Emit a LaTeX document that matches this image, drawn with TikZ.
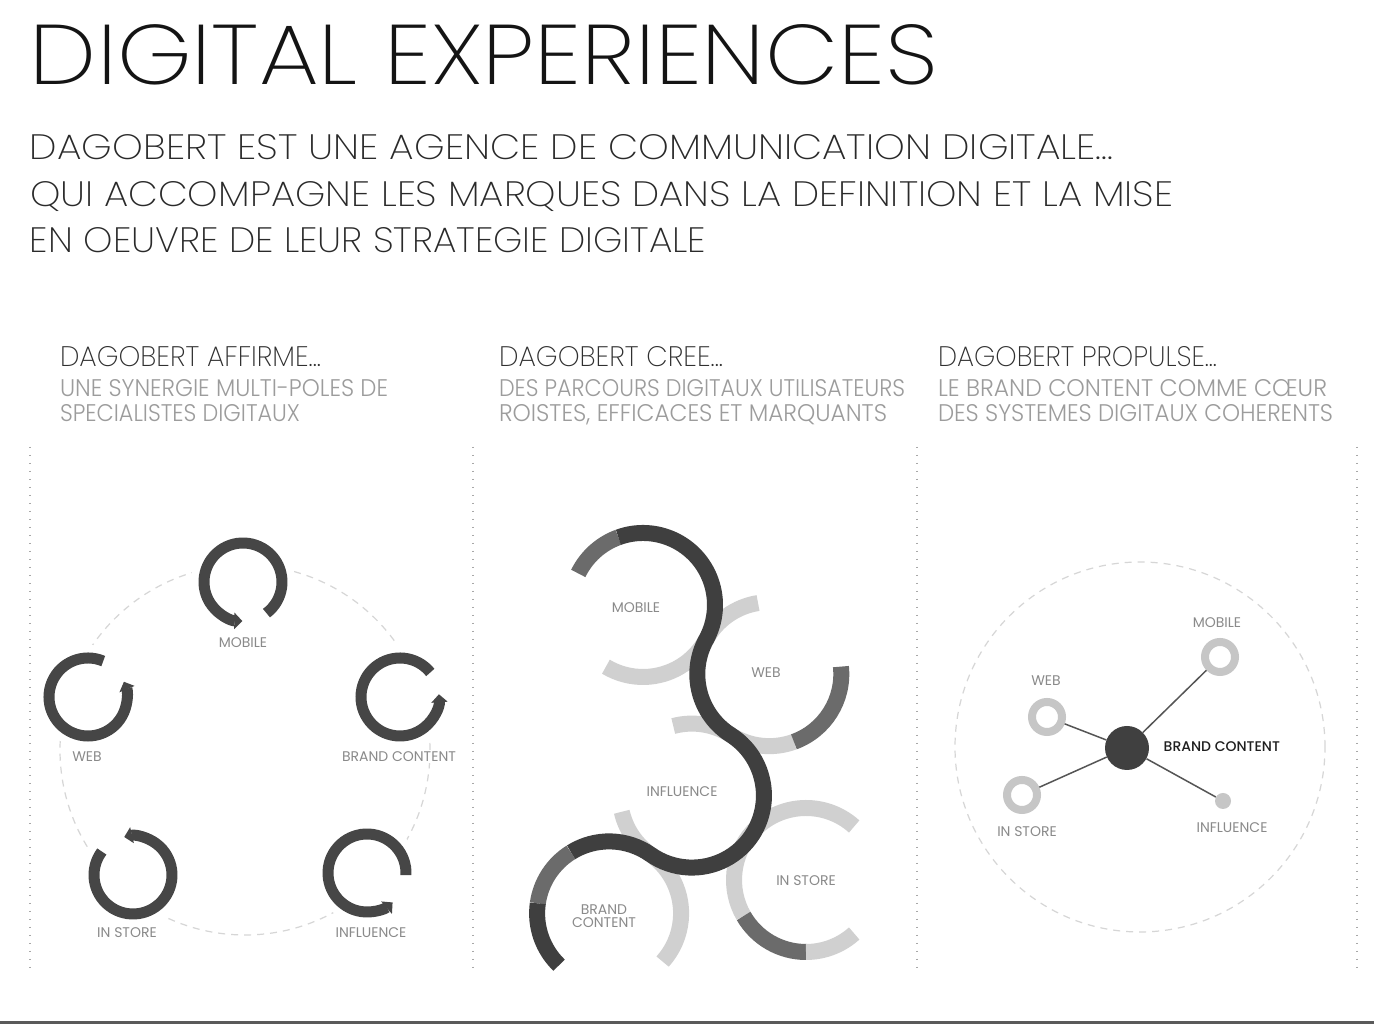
\documentclass[tikz,border=0pt]{standalone}
\usepackage{fontspec}
\usepackage{graphicx}
\IfFontExistsTF{Poppins Light}{\setmainfont{Poppins Light}}{\setmainfont{Poppins}}
\IfFontExistsTF{Poppins ExtraLight}{\newfontfamily\thinfont{Poppins ExtraLight}}{%
  \IfFontExistsTF{Poppins Thin}{\newfontfamily\thinfont{Poppins Thin}}{\newfontfamily\thinfont{Poppins Light}}}
\newfontfamily\lblfont{Poppins}
\IfFontExistsTF{Poppins Medium}{\newfontfamily\boldlbl{Poppins Medium}}{\newfontfamily\boldlbl{Poppins}}
\usetikzlibrary{arrows.meta}
\definecolor{cTitle}{HTML}{141414}
\definecolor{cSub}{HTML}{2A2A2A}
\definecolor{cHead}{HTML}{303030}
\definecolor{cSmall}{HTML}{9C9C9C}
\definecolor{cLbl}{HTML}{8A8A8A}
\definecolor{cRing}{HTML}{464646}
\definecolor{cGuide}{HTML}{D6D6D6}
\definecolor{cSep}{HTML}{A8A8A8}
\definecolor{cDark}{HTML}{3F3F3F}
\definecolor{cMid}{HTML}{6B6B6B}
\definecolor{cLight}{HTML}{D0D0D0}
\definecolor{cHub}{HTML}{404040}
\definecolor{cSat}{HTML}{C6C6C6}
\definecolor{cSpoke}{HTML}{555555}
\definecolor{cBar}{HTML}{5A5A5A}
\newcommand\fitbox[3]{\resizebox{#1pt}{#2pt}{#3}}
\begin{document}
\begin{tikzpicture}[x=1pt,y=1pt,
  txt/.style={anchor=base west, inner sep=0pt, outer sep=0pt},
  thintxt/.style={txt, font=\thinfont},
  lbl/.style={font=\lblfont\fontsize{14}{14}\selectfont, text=cLbl, inner sep=1.5pt},
  lblw/.style={lbl, fill=white},
  cyc/.style={draw=cRing, line width=11pt, -{Triangle[length=8pt,width=16pt]}},
  guide/.style={draw=cGuide, line width=1.2pt, dash pattern=on 7pt off 6pt},
  sepline/.style={draw=cSep, line width=1.4pt, dash pattern=on 1.4pt off 6.6pt},
  sd/.style={draw=cDark, line width=16pt},
  sm/.style={draw=cMid, line width=16pt},
  sl/.style={draw=cLight, line width=16pt},
  hub/.style={circle, fill=cHub, minimum size=44pt, inner sep=0pt},
  sat/.style={circle, draw=cSat, line width=8pt, minimum size=30pt, inner sep=0pt},
  satdot/.style={circle, fill=cSat, minimum size=16pt, inner sep=0pt},
  spoke/.style={draw=cSpoke, line width=1.5pt}
]
\useasboundingbox (0,0) rectangle (1374,1024);
\fill[white] (0,0) rectangle (1374,1024);

% ---------- header texts ----------
\node[thintxt, text=cTitle] (title) at (30,939) {\fitbox{908}{60}{DIGITAL EXPERIENCES}};
\node[thintxt, text=cSub] (sub1) at (30,864) {\fitbox{1083}{25}{DAGOBERT EST UNE AGENCE DE COMMUNICATION DIGITALE...}};
\node[thintxt, text=cSub] (sub2) at (30,817) {\fitbox{1143}{25}{QUI ACCOMPAGNE LES MARQUES DANS LA DEFINITION ET LA MISE}};
\node[thintxt, text=cSub] (sub3) at (30,771) {\fitbox{676}{25}{EN OEUVRE DE LEUR STRATEGIE DIGITALE}};

\node[thintxt, text=cHead] (h1) at (60,657) {\fitbox{261}{20}{DAGOBERT AFFIRME...}};
\node[thintxt, text=cHead] (h2) at (499,657) {\fitbox{224}{20}{DAGOBERT CREE...}};
\node[thintxt, text=cHead] (h3) at (938,657) {\fitbox{279}{20}{DAGOBERT PROPULSE...}};

\node[txt, text=cSmall] (s1a) at (60,627) {\fitbox{328}{17}{UNE SYNERGIE MULTI-POLES DE}};
\node[txt, text=cSmall] (s1b) at (60,602) {\fitbox{240}{17}{SPECIALISTES DIGITAUX}};
\node[txt, text=cSmall] (s2a) at (499,627) {\fitbox{406}{17}{DES PARCOURS DIGITAUX UTILISATEURS}};
\node[txt, text=cSmall] (s2b) at (499,602) {\fitbox{388}{17}{ROISTES, EFFICACES ET MARQUANTS}};
\node[txt, text=cSmall] (s3a) at (938,627) {\fitbox{389}{17}{LE BRAND CONTENT COMME CŒUR}};
\node[txt, text=cSmall] (s3b) at (938,602) {\fitbox{395}{17}{DES SYSTEMES DIGITAUX COHERENTS}};

% ---------- separators ----------
\foreach \sx in {30,473,917,1357}{\draw[sepline] (\sx,577) -- (\sx,54);}
\fill[cBar] (0,0) rectangle (1374,3);

% ---------- left panel ----------
\coordinate (lc) at (245,274);
\draw[guide] (lc) circle[radius=185];
\coordinate (lmob) at (243,442);
\coordinate (lweb) at (88,327);
\coordinate (lbra) at (400,327);
\coordinate (lsto) at (133,149);
\coordinate (linf) at (367,151);
\foreach \c in {lmob,lweb,lbra,lsto,linf}{\fill[white] (\c) circle[radius=52];}
\draw[cyc] (lmob) ++(-53:39) arc[start angle=-53, end angle=269, radius=39];
\draw[cyc] (lweb) ++(67:39) arc[start angle=67, end angle=383, radius=39];
\draw[cyc] (lbra) ++(39:39) arc[start angle=39, end angle=364, radius=39];
\draw[cyc] (lsto) ++(143:39) arc[start angle=143, end angle=463, radius=39];
\draw[cyc] (linf) ++(-3:39) arc[start angle=-3, end angle=311, radius=39];
\node[lblw] (llmob) at (243,381) {MOBILE};
\node[lblw] (llweb) at (87,267) {WEB};
\node[lblw] (llbra) at (399,267) {BRAND CONTENT};
\node[lblw] (llsto) at (127,91) {IN STORE};
\node[lblw] (llinf) at (371,91) {INFLUENCE};

% ---------- middle panel ----------
\coordinate (mM) at (643,419);
\coordinate (mW) at (769.3,349.85);
\coordinate (mI) at (691.9,228.4);
\coordinate (mB) at (609.1,110.6);
\coordinate (mS) at (806,144);
% light / mid arcs below the dark line
\draw[sl] (mM) ++(-28.7:72) arc[start angle=-28.7, end angle=-121, radius=72];
\draw[sl] (mW) ++(151.3:72) arc[start angle=151.3, end angle=99, radius=72];
\draw[sl] (mW) ++(237.5:72) arc[start angle=237.5, end angle=290, radius=72];
\draw[sm] (mW) ++(290:72) arc[start angle=290, end angle=366, radius=72];
\draw[sl] (mI) ++(57.5:72) arc[start angle=57.5, end angle=105, radius=72];
\draw[sl] (mI) ++(234.9:72) arc[start angle=234.9, end angle=193, radius=72];
\draw[sl] (mB) ++(54.9:72) arc[start angle=54.9, end angle=-42, radius=72];
\draw[sl] (mS) ++(48:72) arc[start angle=48, end angle=210, radius=72];
\draw[sm] (mS) ++(210:72) arc[start angle=210, end angle=270, radius=72];
\draw[sl] (mS) ++(270:72) arc[start angle=270, end angle=312, radius=72];
\draw[sm] (mM) ++(154:72) arc[start angle=154, end angle=110, radius=72];
% dark S line
\draw[sd] (mM) ++(110:72) arc[start angle=110, end angle=-28.7, radius=72]
  arc[start angle=151.3, end angle=237.5, radius=72]
  arc[start angle=57.5, end angle=-125.1, radius=72]
  arc[start angle=54.9, end angle=122, radius=72];
\draw[sm] (mB) ++(122:72) arc[start angle=122, end angle=172, radius=72];
\draw[sd] (mB) ++(172:72) arc[start angle=172, end angle=226, radius=72];
\node[lbl] (mlmob) at (636,416) {MOBILE};
\node[lbl] (mlweb) at (766,351) {WEB};
\node[lbl] (mlinf) at (682,232) {INFLUENCE};
\node[lbl] (mlsto) at (806,143) {IN STORE};
\node[lbl, align=center, font=\lblfont\fontsize{14}{13}\selectfont] (mlbra) at (604,108) {BRAND\\CONTENT};

% ---------- right panel ----------
\coordinate (rc) at (1140,277);
\draw[guide] (rc) circle[radius=185];
\node[hub] (rbc) at (1127,276) {};
\node[sat] (rmob) at (1220,367) {};
\node[sat] (rweb) at (1047,307) {};
\node[sat] (rsto) at (1022,229) {};
\node[satdot] (rinf) at (1223,223) {};
\draw[spoke] (rbc) -- (rmob);
\draw[spoke] (rbc) -- (rweb);
\draw[spoke] (rbc) -- (rsto);
\draw[spoke] (rbc) -- (rinf);
\node[lbl] (rlmob) at (1217,401) {MOBILE};
\node[lbl] (rlweb) at (1046,343) {WEB};
\node[lbl] (rlsto) at (1027,192) {IN STORE};
\node[lbl] (rlinf) at (1232,196) {INFLUENCE};
\node[lbl, anchor=west, text=black!88, font=\boldlbl\fontsize{14}{14}\selectfont] (rlbc) at (1162,277) {BRAND CONTENT};
\end{tikzpicture}
\end{document}
